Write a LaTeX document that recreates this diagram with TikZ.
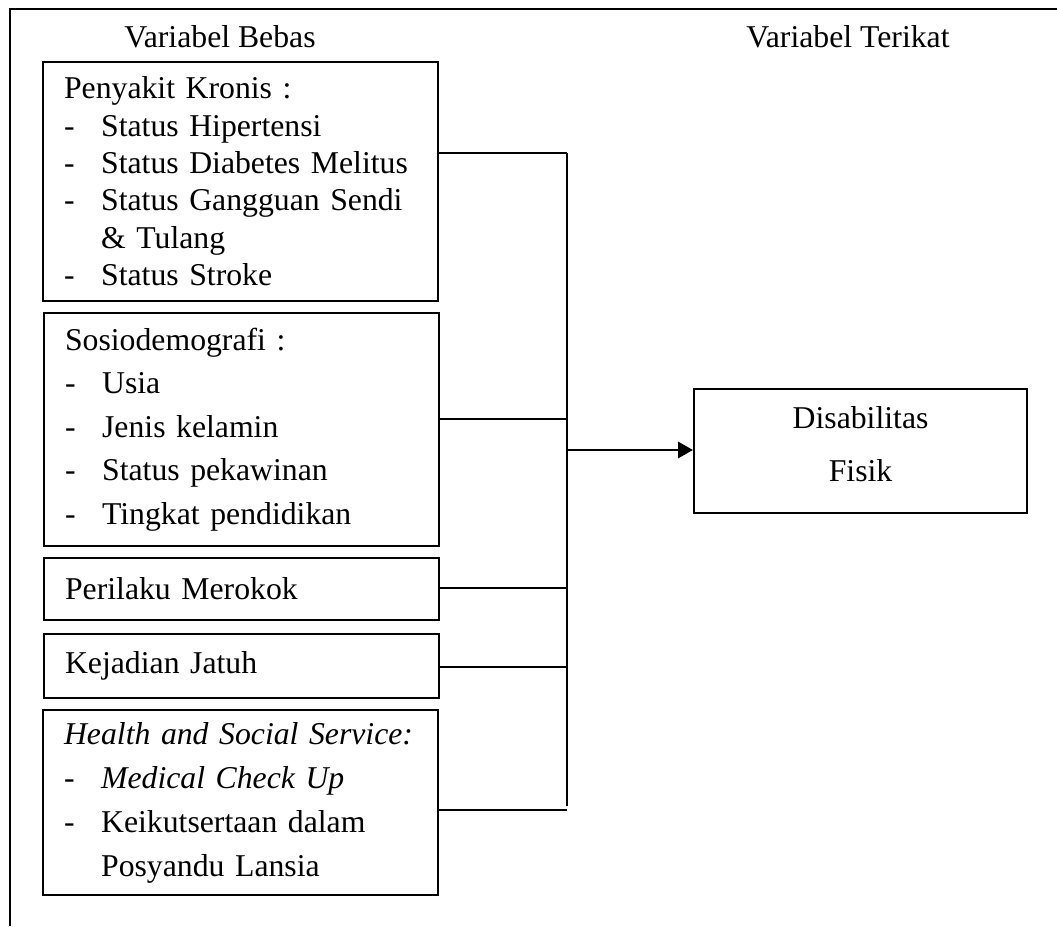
\documentclass[tikz,border=0pt]{standalone}
\usepackage{fontspec}
\setmainfont{Liberation Serif}
\usetikzlibrary{arrows.meta}

\newcommand{\butir}[1]{\mbox{\makebox[13.9pt][l]{-}#1}}
\newcommand{\lanjut}[1]{\mbox{\hspace*{13.9pt}#1}}

\tikzset{
	kotak/.style={draw, line width=0.75pt, anchor=north west, text width=132.3pt, inner xsep=7.9pt, inner ysep=0pt, align=left},
	hasil/.style={draw, line width=0.75pt, anchor=north west, minimum width=124.9pt, minimum height=46.5pt, inner sep=0pt, font=\fontsize{11.9}{19.9}\selectfont},
	garis/.style={line width=0.75pt}
}

\begin{document}
\begin{tikzpicture}[x=0.375pt, y=-0.375pt, font=\fontsize{11.9}{14}\selectfont]
		\useasboundingbox (0,0) rectangle (1057,926);
		\draw[garis] (1057,9.5) -- (10,9.5) -- (10,926);

		\node (bebas) at (220,37) {Variabel Bebas};
		\node (terikat) at (848,37) {Variabel Terikat};

		\node[kotak, minimum height=89.6pt, font=\fontsize{11.9}{14}\selectfont] (kronis) at (42,61) {Penyakit Kronis :\\
			\butir{Status Hipertensi}\\
			\butir{Status Diabetes Melitus}\\
			\butir{Status Gangguan Sendi}\\
			\lanjut{\& Tulang}\\
			\butir{Status Stroke}};
		\node[kotak, minimum height=87.4pt, font=\fontsize{11.9}{16.3}\selectfont] (sosio) at (43,312) {Sosiodemografi :\\
			\butir{Usia}\\
			\butir{Jenis kelamin}\\
			\butir{Status pekawinan}\\
			\butir{Tingkat pendidikan}};
		\node[kotak, minimum height=23.25pt] (rokok) at (43,557) {Perilaku Merokok};
		\node[kotak, minimum height=24pt] (jatuh) at (43,633) {Kejadian Jatuh};
		\node[kotak, minimum height=69.4pt, font=\fontsize{11.9}{16.5}\selectfont] (layanan) at (42,709) {\textit{Health and Social Service:}\\
			\butir{\textit{Medical Check Up}}\\
			\butir{Keikutsertaan dalam}\\
			\lanjut{Posyandu Lansia}};

		\node[hasil] (disabilitas) at (693,388) {\raisebox{2.6pt}[\height][\depth]{\begin{tabular}{@{}c@{}}Disabilitas\\Fisik\end{tabular}}};

		% titik pada garis pengumpul
		\coordinate (c1) at (567,153);
		\coordinate (c2) at (567,419);
		\coordinate (c3) at (567,588);
		\coordinate (c4) at (567,667);
		\coordinate (c5) at (567,810);
		\coordinate (ujung) at (567,806);
		\coordinate (pusat) at (567,450);

		\foreach \n/\c in {kronis/c1, sosio/c2, rokok/c3, jatuh/c4, layanan/c5}
			\draw[garis] (\n.east |- \c) -- (\c);
		\draw[garis] (c1) -- (ujung);
		\draw[line width=1.1pt, -{Triangle[length=5.6pt, width=6pt]}] (pusat) -- (pusat -| disabilitas.west);
	\end{tikzpicture}
\end{document}
